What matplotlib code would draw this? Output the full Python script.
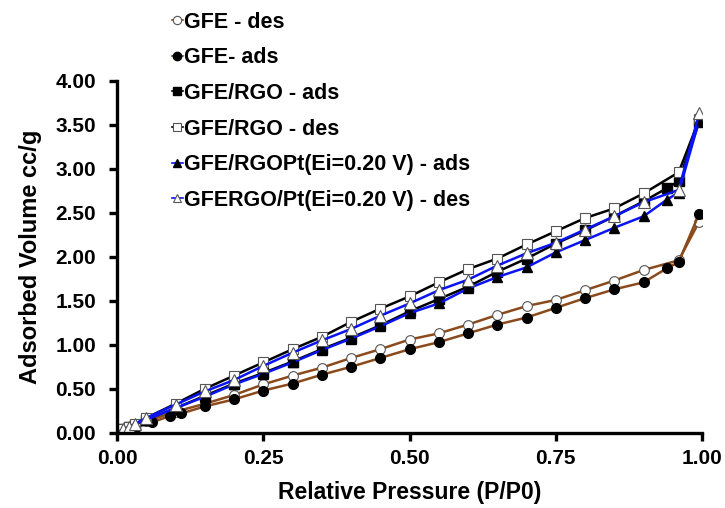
import matplotlib
matplotlib.use("Agg")
import matplotlib.pyplot as plt
from matplotlib.ticker import FormatStrFormatter

plt.rcParams["font.family"] = ["Liberation Sans", "DejaVu Sans"]
plt.rcParams["font.weight"] = "bold"

# GFE
gfe_ads_x = [0.0, 0.01, 0.02, 0.03, 0.06, 0.09, 0.11, 0.15, 0.2, 0.25, 0.3, 0.35, 0.4, 0.45,
             0.5, 0.55, 0.6, 0.65, 0.7, 0.75, 0.8, 0.85, 0.9, 0.94, 0.96, 0.995]
gfe_ads_y = [0.0, 0.02, 0.04, 0.06, 0.12, 0.19, 0.22, 0.30, 0.38, 0.48, 0.56, 0.66, 0.75, 0.85,
             0.95, 1.03, 1.13, 1.23, 1.31, 1.42, 1.53, 1.63, 1.71, 1.87, 1.94, 2.49]
gfe_des_x = [0.0, 0.01, 0.02, 0.05, 0.1, 0.15, 0.2, 0.25, 0.3, 0.35, 0.4, 0.45,
             0.5, 0.55, 0.6, 0.65, 0.7, 0.75, 0.8, 0.85, 0.9, 0.96, 0.995]
gfe_des_y = [0.0, 0.03, 0.05, 0.13, 0.24, 0.33, 0.43, 0.55, 0.65, 0.74, 0.85, 0.95,
             1.06, 1.13, 1.23, 1.34, 1.44, 1.51, 1.62, 1.73, 1.85, 1.96, 2.40]

# GFE/RGO
rgo_ads_x = [0.0, 0.01, 0.02, 0.03, 0.05, 0.1, 0.15, 0.2, 0.25, 0.3, 0.35, 0.4, 0.45,
             0.5, 0.55, 0.6, 0.65, 0.7, 0.75, 0.8, 0.85, 0.9, 0.94, 0.96, 0.995]
rgo_ads_y = [0.0, 0.04, 0.07, 0.09, 0.15, 0.28, 0.42, 0.56, 0.68, 0.81, 0.95, 1.08, 1.22,
             1.38, 1.52, 1.66, 1.83, 1.98, 2.15, 2.30, 2.46, 2.63, 2.78, 2.86, 3.53]
rgo_des_x = [0.0, 0.01, 0.02, 0.03, 0.05, 0.1, 0.15, 0.2, 0.25, 0.3, 0.35, 0.4, 0.45,
             0.5, 0.55, 0.6, 0.65, 0.7, 0.75, 0.8, 0.85, 0.9, 0.96, 0.995]
rgo_des_y = [0.0, 0.04, 0.07, 0.10, 0.17, 0.33, 0.50, 0.65, 0.80, 0.95, 1.09, 1.26, 1.41,
             1.55, 1.71, 1.86, 1.98, 2.14, 2.29, 2.44, 2.55, 2.72, 2.96, 3.56]

# GFE/RGO/Pt
pt_ads_x = [0.0, 0.01, 0.02, 0.03, 0.05, 0.1, 0.15, 0.2, 0.25, 0.3, 0.35, 0.4, 0.45,
            0.5, 0.55, 0.6, 0.65, 0.7, 0.75, 0.8, 0.85, 0.9, 0.94, 0.96, 0.995]
pt_ads_y = [0.0, 0.03, 0.06, 0.09, 0.15, 0.28, 0.41, 0.55, 0.67, 0.80, 0.94, 1.07, 1.21,
            1.36, 1.47, 1.64, 1.77, 1.88, 2.05, 2.19, 2.33, 2.46, 2.65, 2.73, 3.55]
pt_des_x = [0.0, 0.01, 0.02, 0.03, 0.05, 0.1, 0.15, 0.2, 0.25, 0.3, 0.35, 0.4, 0.45,
            0.5, 0.55, 0.6, 0.65, 0.7, 0.75, 0.8, 0.85, 0.9, 0.96, 0.995]
pt_des_y = [0.0, 0.04, 0.07, 0.10, 0.17, 0.32, 0.47, 0.60, 0.76, 0.91, 1.05, 1.18, 1.33,
            1.47, 1.62, 1.74, 1.90, 2.04, 2.16, 2.31, 2.46, 2.62, 2.76, 3.63]

brown = "#8b4a1c"
blue = "#0a14f0"
ms = 7
lw = 1.8

fig = plt.figure(figsize=(7.25, 5.08), dpi=100)
ax = fig.add_axes([0.1614, 0.148, 0.807, 0.693])

ax.plot(gfe_des_x, gfe_des_y, color=brown, lw=lw, marker="o", ms=ms,
        mfc="white", mec="#555555", mew=0.8, label="GFE - des")
ax.plot(gfe_ads_x, gfe_ads_y, color=brown, lw=lw, marker="o", ms=ms,
        mfc="black", mec="black", label="GFE- ads")
ax.plot(rgo_ads_x, rgo_ads_y, color="black", lw=lw, marker="s", ms=ms,
        mfc="black", mec="black", label="GFE/RGO - ads")
ax.plot(rgo_des_x, rgo_des_y, color="black", lw=lw, marker="s", ms=ms,
        mfc="white", mec="#555555", mew=0.8, label="GFE/RGO - des")
ax.plot(pt_ads_x, pt_ads_y, color=blue, lw=lw, marker="^", ms=ms,
        mfc="black", mec="black", label="GFE/RGOPt(Ei=0.20 V) - ads")
ax.plot(pt_des_x, pt_des_y, color=blue, lw=lw, marker="^", ms=ms + 1,
        mfc="white", mec="#555555", mew=0.8, label="GFERGO/Pt(Ei=0.20 V) - des")

ax.set_xlim(0, 1.0)
ax.set_ylim(0, 4.0)
ax.set_xticks([0, 0.25, 0.5, 0.75, 1.0])
ax.set_yticks([0, 0.5, 1.0, 1.5, 2.0, 2.5, 3.0, 3.5, 4.0])
ax.xaxis.set_major_formatter(FormatStrFormatter("%.2f"))
ax.yaxis.set_major_formatter(FormatStrFormatter("%.2f"))
ax.spines["top"].set_visible(False)
ax.spines["right"].set_visible(False)
for s in ["left", "bottom"]:
    ax.spines[s].set_linewidth(2.4)
ax.tick_params(direction="out", length=6, width=2.4, labelsize=15)
ax.tick_params(axis="x", pad=6)
ax.tick_params(axis="y", pad=9)
ax.set_xlabel("Relative Pressure (P/P0)", fontsize=16.5, fontweight="bold", labelpad=9)
ax.set_ylabel("Adsorbed Volume cc/g", fontsize=17, fontweight="bold", labelpad=10)

leg = fig.legend(loc="upper left", bbox_to_anchor=(0.237, 0.977), frameon=False,
                 fontsize=15.5, handlelength=0.5, handletextpad=0.05, labelspacing=0.68,
                 borderaxespad=0, borderpad=0)
for line in leg.get_lines():
    line.set_linewidth(1.2)
    line.set_markersize(6)

fig.savefig("out.png", dpi=100, facecolor="white")
